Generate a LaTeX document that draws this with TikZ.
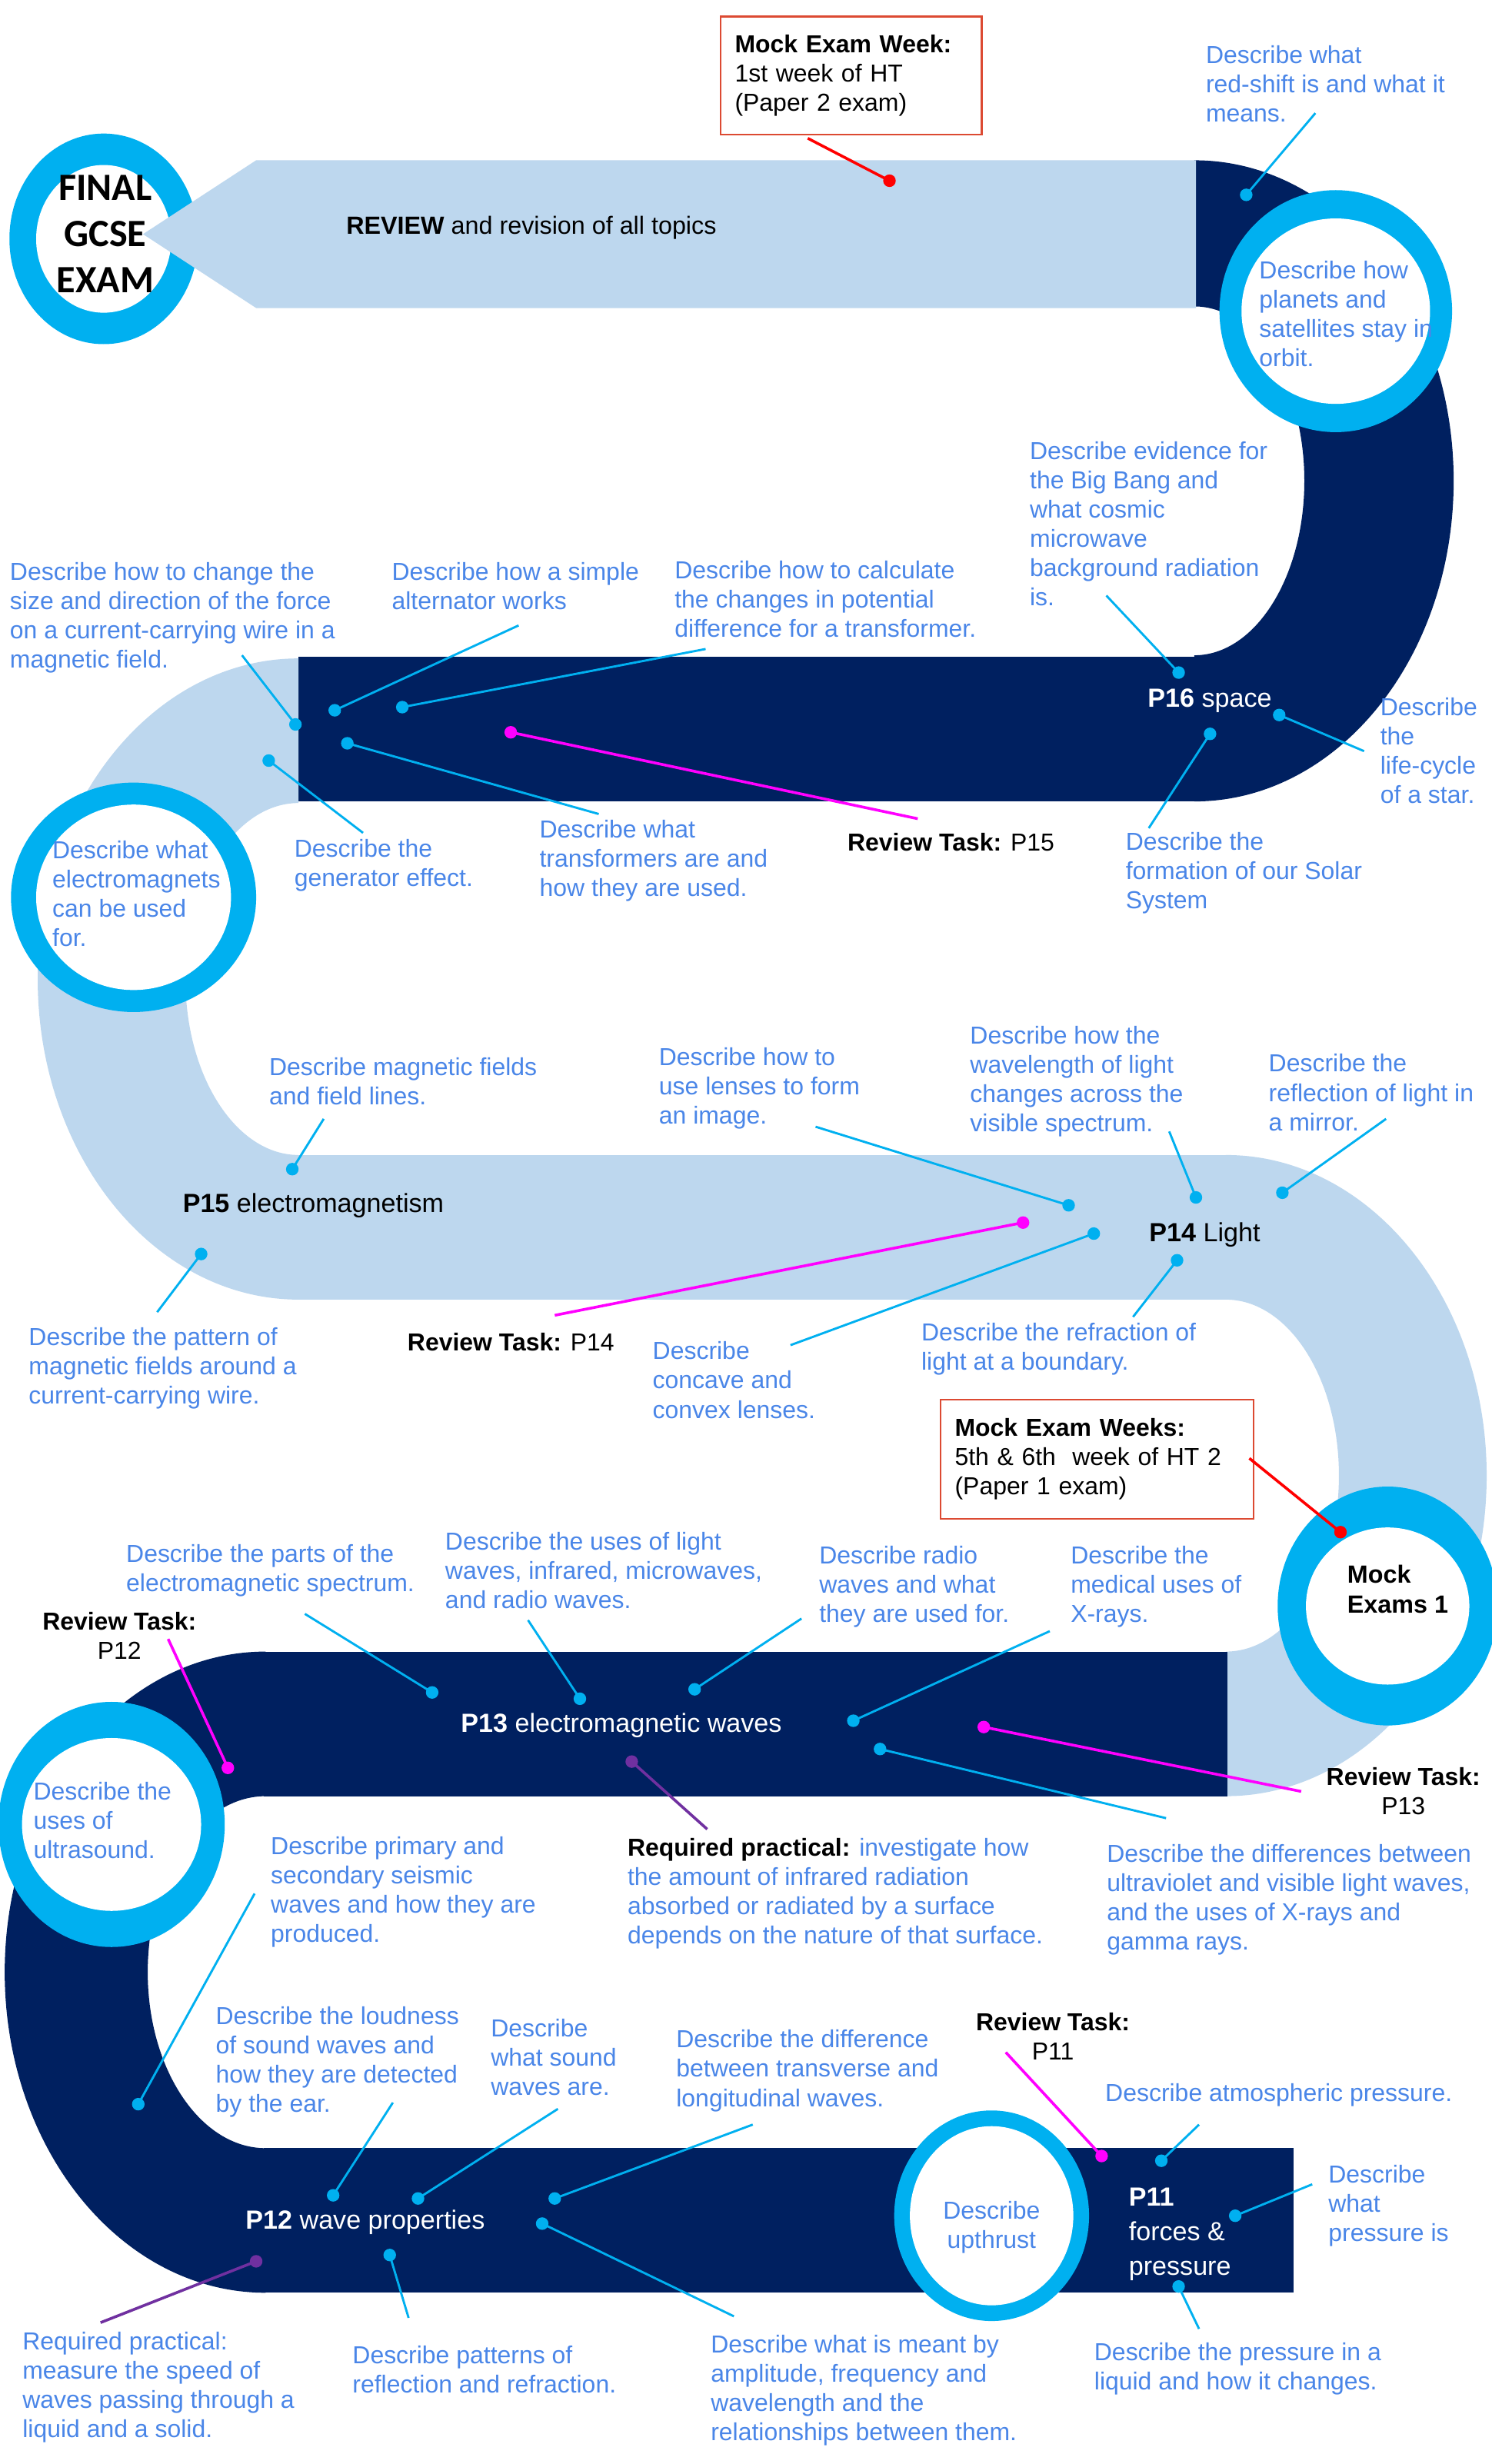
\documentclass[tikz,border=0pt]{standalone}
\usepackage{fontspec}
\setmainfont{Liberation Sans}
\newfontfamily\examfont{Carlito}

\definecolor{navyband}{HTML}{002060}
\definecolor{lightband}{HTML}{BDD7EE}
\definecolor{ringblue}{HTML}{00B0F0}
\definecolor{txtblue}{HTML}{4A86E8}
\definecolor{boxred}{HTML}{DC4A32}
\definecolor{purplepr}{HTML}{7030A0}
\definecolor{revpink}{HTML}{FF00FF}
\definecolor{mockred}{HTML}{FF0000}

\tikzset{
  lbl/.style={anchor=north west, inner sep=0pt, align=left, text=txtblue, font=\fontsize{8.9}{10.6}\selectfont},
  blk/.style={inner sep=0pt, align=center, text=black, font=\fontsize{8.9}{10.6}\selectfont},
  bandlbl/.style={anchor=west, inner sep=0pt, font=\fontsize{9.5}{12}\selectfont},
  conn/.style={ringblue, line width=0.8pt},
  reviewlink/.style={revpink, line width=1pt},
  praclink/.style={purplepr, line width=1pt},
  mocklink/.style={mockred, line width=1pt},
  mockbox/.style={draw=boxred, line width=0.7pt, anchor=north west, inner xsep=0.18cm, align=left, text=black, font=\fontsize{8.9}{10.6}\selectfont},
}

\begin{document}
\begin{tikzpicture}[x=0.02cm, y=-0.02cm]

\fill[white] (0,0) rectangle (949,1568) ;
\useasboundingbox (0,0) rectangle (949,1568) ;

%% BANDS
% Top turn (navy)
\begin{scope}
	\clip (760,0) rectangle (949,700) ;
	\fill[navyband, even odd rule] (760,306) ellipse [x radius=165, y radius=204] (760,306) ellipse [x radius=70, y radius=111] ;
\end{scope}
\fill[navyband] (190,418) rectangle (761,510) ;

% Left turn (light)
\begin{scope}
	\clip (0,400) rectangle (190,900) ;
	\fill[lightband, even odd rule] (190,623) ellipse [x radius=166, y radius=204] (190,623) ellipse [x radius=72, y radius=112] ;
\end{scope}
\fill[lightband] (189,735) rectangle (781,827) ;

% Right turn (light)
\begin{scope}
	\clip (780,700) rectangle (960,1200) ;
	\fill[lightband, even odd rule] (780,939) ellipse [x radius=166, y radius=204] (780,939) ellipse [x radius=72, y radius=112] ;
\end{scope}
\fill[navyband] (168,1051) rectangle (781,1143) ;

% Left turn (navy)
\begin{scope}
	\clip (0,1000) rectangle (169,1500) ;
	\fill[navyband, even odd rule] (169,1255) ellipse [x radius=166, y radius=204] (169,1255) ellipse [x radius=75, y radius=112] ;
\end{scope}
\fill[navyband] (168,1367) rectangle (823,1459) ;

%% RINGS
\foreach \cx/\cy/\ox/\oy/\ix/\iy in {66/152/60/67/43/47, 850/198/74/77/60/59, 85/571/78/73/62/59,
	883/1022/70/76/52/50, 71/1161/72/78/57/55, 631/1410/62/67/52/57}
{
	\fill[ringblue] (\cx,\cy) ellipse [x radius=\ox, y radius=\oy] ;
	\fill[white] (\cx,\cy) ellipse [x radius=\ix, y radius=\iy] ;
}

% Review arrow (over the final ring)
\fill[lightband] (163,102) -- (761,102) -- (761,196) -- (163,196) -- (91,149) -- cycle ;

%% CONNECTORS
% Topic links
\foreach \n/\ex/\ey/\dx/\dy in {redshift/837/72/793/124, bigbang/704/379/750/428, lifecycle/868/478/814/455,
	solar/731/527/770/467, transformers/381/518/221/473, generator/231/530/171/484, force/154/417/188/461,
	alternator/330/398/213/452, pdcalc/449/413/256/450, fieldlines/206/712/186/744, wirefield/100/835/128/798,
	lensimage/519/717/680/767, wavelength/744/720/761/762, mirror/882/712/816/759, concave/503/856/696/785,
	refraction/721/838/749/802, emparts/194/1027/275/1077, emuses/336/1031/369/1081, radio/510/1030/442/1075,
	xrays/668/1038/543/1095, uvdiff/742/1157/560/1113, seismic/162/1205/88/1339, loudness/250/1338/212/1397,
	soundwaves/355/1342/266/1399, transverse/479/1352/353/1399, atmos/763/1352/739/1375,
	pressure/835/1390/786/1410, liquid/763/1482/750/1455, amplitude/467/1474/345/1415, patterns/260/1475/248/1435}
{
	\coordinate (\n-e) at (\ex,\ey) ;
	\coordinate (\n-d) at (\dx,\dy) ;
	\draw[conn] (\n-e) -- (\n-d) ;
	\fill[ringblue] (\n-d) circle (4) ;
}
% Review tasks
\foreach \n/\ex/\ey/\dx/\dy in {rev15/584/521/325/466, rev14/353/837/651/778, rev12/107/1043/145/1125,
	rev13/828/1140/626/1099, rev11/640/1306/701/1372}
{
	\coordinate (\n-e) at (\ex,\ey) ;
	\coordinate (\n-d) at (\dx,\dy) ;
	\draw[reviewlink] (\n-e) -- (\n-d) ;
	\fill[revpink] (\n-d) circle (4) ;
}
% Required practicals
\foreach \n/\ex/\ey/\dx/\dy in {irprac/450/1164/402/1121, speedprac/64/1478/163/1439}
{
	\coordinate (\n-e) at (\ex,\ey) ;
	\coordinate (\n-d) at (\dx,\dy) ;
	\draw[praclink] (\n-e) -- (\n-d) ;
	\fill[purplepr] (\n-d) circle (4) ;
}

%% MOCK EXAM BOXES
\node[mockbox, minimum width=3.32cm, minimum height=1.5cm, text width=2.96cm] (mockwk) at (458,10)
	{\textbf{Mock Exam Week:}\\1st week of HT\\(Paper 2 exam)} ;
\node[mockbox, minimum width=3.98cm, minimum height=1.52cm, text width=3.62cm] (mockwks) at (598,890)
	{\textbf{Mock Exam Weeks:}\\5th \& 6th\ \ week of HT 2\\(Paper 1 exam)} ;
\coordinate (mockwk-e) at (514,88) ;
\coordinate (mockwk-d) at (566,115) ;
\coordinate (mockwks-e) at (795,928) ;
\coordinate (mockwks-d) at (853,975) ;
\draw[mocklink] (mockwk-e) -- (mockwk-d) ;
\fill[mockred] (mockwk-d) circle (4) ;
\draw[mocklink] (mockwks-e) -- (mockwks-d) ;
\fill[mockred] (mockwks-d) circle (4) ;

%% BAND TEXT
\node[blk, font=\examfont\bfseries\fontsize{14}{16.7}\selectfont, anchor=north] (finalexam) at (67,111) {FINAL\\GCSE\\EXAM} ;
\node[blk, anchor=west, font=\fontsize{9}{11}\selectfont] (review) at (220,145) {\textbf{REVIEW} and revision of all topics} ;
\node[bandlbl, text=white] (p16) at (730,446) {\textbf{P16} space} ;
\node[bandlbl, text=black] (p15) at (116,767) {\textbf{P15} electromagnetism} ;
\node[bandlbl, text=black] (p14) at (731,786) {\textbf{P14} Light} ;
\node[bandlbl, text=white] (p13) at (293,1098) {\textbf{P13} electromagnetic waves} ;
\node[bandlbl, text=white] (p12) at (156,1414) {\textbf{P12} wave properties} ;
\node[bandlbl, text=white, anchor=north west, align=left, font=\fontsize{9.5}{12.5}\selectfont] (p11) at (718,1392) {\textbf{P11}\\forces \&\\pressure} ;
\node[blk, anchor=north west, align=left, font=\bfseries\fontsize{9}{10.8}\selectfont] (mockexams) at (857,995.5) {Mock\\Exams 1} ;

% Review task labels
\node[blk, anchor=west] (review15) at (539,536) {\textbf{Review Task:} P15} ;
\node[blk, anchor=west] (review14) at (259,854) {\textbf{Review Task:} P14} ;
\node[blk, anchor=north] (review12) at (76,1025.5) {\textbf{Review Task:}\\P12} ;
\node[blk, anchor=north] (review13) at (893,1124.5) {\textbf{Review Task:}\\P13} ;
\node[blk, anchor=north] (review11) at (670,1280.5) {\textbf{Review Task:}\\P11} ;

%% TOPIC TEXT
% P16 space
\node[lbl] (redshift) at (767,28.5) {Describe what\\red-shift is and what it\\means.} ;
\node[lbl] (orbit) at (801,165.5) {Describe how\\planets and\\satellites stay in\\orbit.} ;
\node[lbl] (bigbang) at (655,280.5) {Describe evidence for\\the Big Bang and\\what cosmic\\microwave\\background radiation\\is.} ;
\node[lbl] (lifecycle) at (878,443.5) {Describe\\the\\life-cycle\\of a star.} ;
\node[lbl] (solar) at (716,529.5) {Describe the\\formation of our Solar\\System} ;

% P15 electromagnetism
\node[lbl] (force) at (6,357.5) {Describe how to change the\\size and direction of the force\\on a current-carrying wire in a\\magnetic field.} ;
\node[lbl] (alternator) at (249,357.5) {Describe how a simple\\alternator works} ;
\node[lbl] (pdcalc) at (429,356.5) {Describe how to calculate\\the changes in potential\\difference for a transformer.} ;
\node[lbl] (transformers) at (343,521.5) {Describe what\\transformers are and\\how they are used.} ;
\node[lbl] (generator) at (187,533.5) {Describe the\\generator effect.} ;
\node[lbl] (electromagnets) at (33,534.5) {Describe what\\electromagnets\\can be used\\for.} ;
\node[lbl] (fieldlines) at (171,672.5) {Describe magnetic fields\\and field lines.} ;
\node[lbl] (wirefield) at (18,844.5) {Describe the pattern of\\magnetic fields around a\\current-carrying wire.} ;

% P14 Light
\node[lbl] (lensimage) at (419,666.5) {Describe how to\\use lenses to form\\an image.} ;
\node[lbl] (wavelength) at (617,652.5) {Describe how the\\wavelength of light\\changes across the\\visible spectrum.} ;
\node[lbl] (mirror) at (807,670.5) {Describe the\\reflection of light in\\a mirror.} ;
\node[lbl] (concave) at (415,853.5) {Describe\\concave and\\convex lenses.} ;
\node[lbl] (refraction) at (586,841.5) {Describe the refraction of\\light at a boundary.} ;

% P13 electromagnetic waves
\node[lbl] (emparts) at (80,982.5) {Describe the parts of the\\electromagnetic spectrum.} ;
\node[lbl] (emuses) at (283,974.5) {Describe the uses of light\\waves, infrared, microwaves,\\and radio waves.} ;
\node[lbl] (radio) at (521,983.5) {Describe radio\\waves and what\\they are used for.} ;
\node[lbl] (xrays) at (681,983.5) {Describe the\\medical uses of\\X-rays.} ;
\node[lbl] (uvdiff) at (704,1173.5) {Describe the differences between\\ultraviolet and visible light waves,\\and the uses of X-rays and\\gamma rays.} ;
\node[lbl] (irprac) at (399,1169.5) {{\color{black}\textbf{Required practical:}} investigate how\\the amount of infrared radiation\\absorbed or radiated by a surface\\depends on the nature of that surface.} ;

% P12 wave properties
\node[lbl] (ultrasound) at (21,1133.5) {Describe the\\uses of\\ultrasound.} ;
\node[lbl] (seismic) at (172,1168.5) {Describe primary and\\secondary seismic\\waves and how they are\\produced.} ;
\node[lbl] (loudness) at (137,1276.5) {Describe the loudness\\of sound waves and\\how they are detected\\by the ear.} ;
\node[lbl] (soundwaves) at (312,1284.5) {Describe\\what sound\\waves are.} ;
\node[lbl] (transverse) at (430,1291.5) {Describe the difference\\between transverse and\\longitudinal waves.} ;
\node[lbl] (patterns) at (224,1492.5) {Describe patterns of\\reflection and refraction.} ;
\node[lbl] (amplitude) at (452,1485.5) {Describe what is meant by\\amplitude, frequency and\\wavelength and the\\relationships between them.} ;
\node[lbl] (speedprac) at (14,1483.5) {Required practical:\\measure the speed of\\waves passing through a\\liquid and a solid.} ;

% P11 forces & pressure
\node[lbl, anchor=north, align=center] (upthrust) at (631,1400.5) {Describe\\upthrust} ;
\node[lbl] (atmos) at (703,1325.5) {Describe atmospheric pressure.} ;
\node[lbl] (pressure) at (845,1377.5) {Describe\\what\\pressure is} ;
\node[lbl] (liquid) at (696,1490.5) {Describe the pressure in a\\liquid and how it changes.} ;

\end{tikzpicture}
\end{document}
